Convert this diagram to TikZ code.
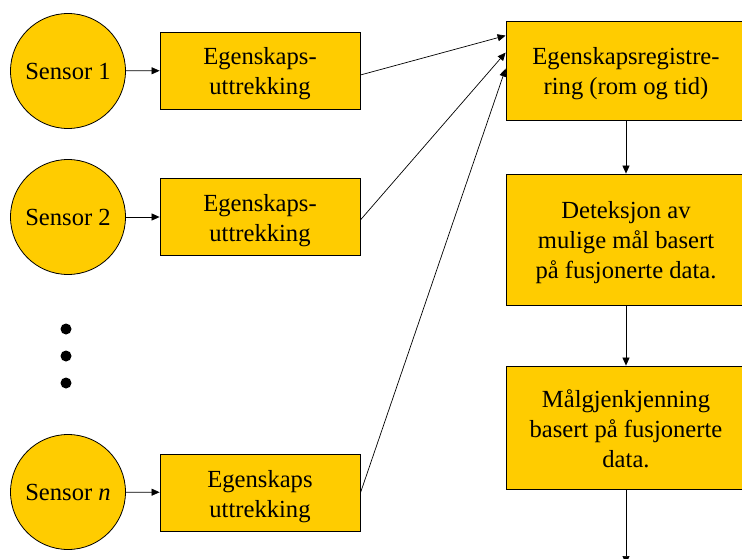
\documentclass[tikz,border=0pt]{standalone}
\usepackage{fontspec}
\setmainfont{Liberation Serif}
\usetikzlibrary{arrows.meta,calc}
\definecolor{boxyellow}{HTML}{FFCC00}
\tikzset{
  base/.style={draw=black, line width=0.8pt, fill=boxyellow, inner sep=0pt,
    align=center, font=\fontsize{24.6}{30}\selectfont},
  sensor/.style={base, circle, minimum size=115pt},
  extract/.style={base, rectangle, minimum width=200pt, minimum height=77pt,
    text height=52pt, text depth=3pt},
  stage/.style={base, rectangle, minimum width=240pt},
  link/.style={line width=0.7pt, -{Triangle[length=8pt,width=7pt]}},
  dot/.style={circle, fill=black, inner sep=0pt, minimum size=11pt}
}
\begin{document}
\begin{tikzpicture}[x=1pt,y=-1pt]
\path[use as bounding box, clip] (0,0) rectangle (742,559);

% sensors
\node[sensor] (s1) at (68,71) {Sensor 1};
\node[sensor] (s2) at (68,217) {Sensor 2};
\node[sensor] (sn) at (68,492) {Sensor \textit{n}};

% ellipsis between sensors
\node[dot] (d1) at (66,329) {};
\node[dot] (d2) at (66,356) {};
\node[dot] (d3) at (66,383) {};

% feature extraction
\node[extract] (e1) at (260,70.5) {Egenskaps-\\uttrekking};
\node[extract] (e2) at (260,217) {Egenskaps-\\uttrekking};
\node[extract] (e3) at (260,492.5) {Egenskaps\\uttrekking};

% processing chain
\node[stage, minimum height=99pt, text height=52pt, text depth=3pt] (A) at (626,70.5)
  {Egenskapsregistre-\\ring (rom og tid)};
\node[stage, minimum height=131pt, text height=80pt, text depth=3pt] (B) at (626,239.5)
  {Deteksjon av\\mulige mål basert\\på fusjonerte data.};
\node[stage, minimum height=123pt, text height=82pt, text depth=3pt] (C) at (626,427.5)
  {Målgjenkjenning\\basert på fusjonerte\\data.};
\coordinate (out) at (626,564);

% connectors
\draw[link] (s1) -- (e1);
\draw[link] (s2) -- (e2);
\draw[link] (sn) -- (e3);
\draw[link] ([yshift=-4.5pt]e1.east) -- ([yshift=-15pt]A.north west);
\draw[link] ([yshift=-3pt]e2.east) -- ([yshift=-32pt]A.north west);
\draw[link] ([yshift=-0.5pt]e3.east) -- ([yshift=-48pt]A.north west);
\draw[link] (A) -- (B);
\draw[link] (B) -- (C);
\draw[link] (C) -- (out);
\end{tikzpicture}
\end{document}
